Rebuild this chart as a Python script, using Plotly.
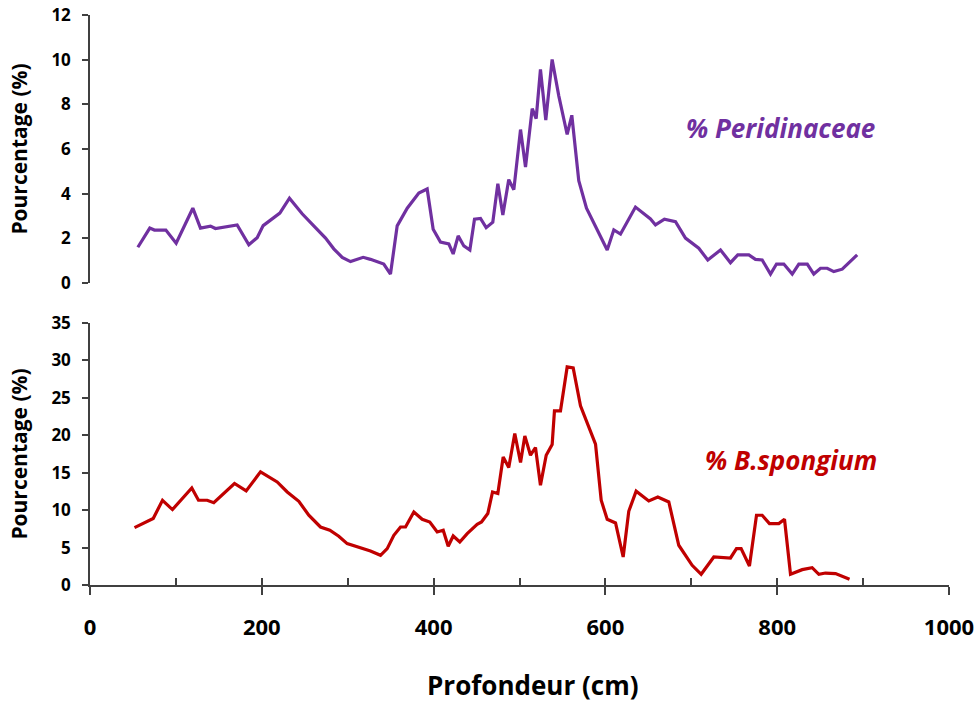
import plotly.graph_objects as go

# Peridinaceae (%) vs depth (cm)
peri_depth = [55.7, 69.6, 75, 88.3, 100.3, 119.7, 128.6, 140.3, 146, 171.3, 184.9, 194.6, 201.6,
              221, 232.2, 247, 260.5, 274.2, 283.8, 293.6, 303.3, 318, 326.5, 338.2, 342, 349.8,
              357.6, 369.3, 382.8, 392.5, 399.5, 408, 417.7, 422.8, 428.6, 435.2, 442.2, 447.6,
              454.6, 461.2, 468.9, 474.8, 480.6, 487.5, 493.4, 501.2, 507, 514.8, 519.4, 524.4,
              530.6, 538, 545.8, 555.5, 560.9, 569, 578, 602.1, 609.8, 617.6, 635, 652.5, 658.3,
              668.7, 681.6, 693.2, 708.7, 719.2, 734, 745.6, 754.1, 767, 774.7, 782.5, 792.2,
              799.2, 807.7, 817.5, 825.2, 835, 842.6, 850.4, 858.2, 865.9, 875.7, 893.1]
peri_pct = [1.60, 2.46, 2.37, 2.37, 1.78, 3.35, 2.46, 2.55, 2.44, 2.60, 1.71, 2.03, 2.57,
            3.13, 3.80, 3.10, 2.56, 2.01, 1.53, 1.15, 0.96, 1.15, 1.06, 0.91, 0.85, 0.40,
            2.56, 3.35, 4.03, 4.21, 2.41, 1.83, 1.75, 1.30, 2.11, 1.66, 1.48, 2.86,
            2.89, 2.48, 2.72, 4.45, 3.05, 4.63, 4.18, 6.87, 5.19, 7.81, 7.36, 9.56,
            7.29, 10.01, 8.37, 6.65, 7.51, 4.58, 3.35, 1.48, 2.38, 2.19, 3.40, 2.87, 2.60,
            2.86, 2.75, 2.01, 1.56, 1.03, 1.48, 0.91, 1.26, 1.26, 1.06, 1.03, 0.40,
            0.85, 0.85, 0.40, 0.85, 0.85, 0.40, 0.66, 0.66, 0.51, 0.62, 1.26]

# B. spongium (%) vs depth (cm)
bsp_depth = [51.8, 62.6, 73.6, 84.4, 96, 118.5, 126.3, 136.4, 144.1, 168.2, 181.8, 198.5,
             217.9, 229.6, 243.1, 254.7, 268.3, 279.2, 289.6, 299.4, 326.5, 338.2, 346, 353.7,
             361.5, 367.3, 377, 386.7, 395.6, 404.2, 411.2, 417, 422.8, 430.5, 439.1, 450.7,
             455.8, 463.1, 468.6, 474.8, 481, 487.5, 494.5, 501.2, 506.2, 512.8, 518.6, 524.4,
             531.1, 538, 540.7, 547.7, 555.5, 562.5, 571, 588.5, 595.1, 602.1, 611.8, 620.7,
             627.2, 635.8, 650.5, 661, 673.8, 685.4, 701, 711.5, 726.2, 745.6, 752.6, 758,
             767.7, 775.9, 782.5, 791, 801.9, 808.5, 815.5, 829.1, 840.7, 848.5, 856.2, 867.9,
             884.2]
bsp_pct = [7.67, 8.29, 8.88, 11.32, 10.08, 12.97, 11.32, 11.32, 11.0, 13.56, 12.57, 15.11,
           13.77, 12.43, 11.19, 9.32, 7.75, 7.31, 6.51, 5.53, 4.55, 3.97, 4.86, 6.64,
           7.75, 7.75, 9.76, 8.78, 8.42, 7.09, 7.31, 5.17, 6.55, 5.75, 6.87, 8.11,
           8.42, 9.55, 12.43, 12.22, 17.11, 15.69, 20.24, 16.36, 19.92, 17.34, 18.37, 13.33,
           17.34, 18.77, 23.26, 23.26, 29.14, 29.0, 23.93, 18.81, 11.32, 8.78, 8.29, 3.74,
           9.85, 12.53, 11.23, 11.76, 11.10, 5.31, 2.63, 1.43, 3.74, 3.61, 4.86, 4.86,
           2.54, 9.32, 9.32, 8.20, 8.20, 8.78, 1.43, 2.05, 2.32, 1.43, 1.60, 1.52,
           0.76]

x_ticks = [0, 200, 400, 600, 800, 1000]
top_y_ticks = [0, 2, 4, 6, 8, 10, 12]
bot_y_ticks = [0, 5, 10, 15, 20, 25, 30, 35]

PURPLE = "#7030A0"
RED = "#C00000"
AXC = "#404040"
FONT = "Open Sans"

fig = go.Figure()
fig.add_trace(go.Scatter(x=peri_depth, y=peri_pct, mode="lines",
                         line=dict(color=PURPLE, width=3.2), xaxis="x", yaxis="y",
                         showlegend=False))
fig.add_trace(go.Scatter(x=bsp_depth, y=bsp_pct, mode="lines",
                         line=dict(color=RED, width=3.2), xaxis="x2", yaxis="y2",
                         showlegend=False))

ytitle = dict(text="Pourcentage (%)", font=dict(family=FONT, size=21, color="black", weight="bold"),
              standoff=18)
ytick = dict(family=FONT, size=17, color="black", weight="bold")

fig.update_layout(
    width=975, height=704,
    margin=dict(l=90, r=26, t=15, b=119),
    plot_bgcolor="white", paper_bgcolor="white",
    xaxis=dict(domain=[0, 1], range=[0, 1000], visible=False, anchor="y", automargin=False),
    yaxis=dict(domain=[0.5298, 1.0], range=[0, 12], tickvals=top_y_ticks,
               showline=True, linecolor=AXC, linewidth=1.5, ticks="outside",
               ticklen=6, tickcolor=AXC, tickwidth=1.5, showgrid=False, zeroline=False,
               tickfont=ytick, title=ytitle, anchor="x", ticklabelstandoff=8,
               automargin=False, ticklabeloverflow="allow"),
    xaxis2=dict(domain=[0, 1], range=[0, 1000], tickvals=x_ticks, anchor="y2",
                showline=True, linecolor=AXC, linewidth=1.5, ticks="outside", ticklen=8,
                tickcolor=AXC, tickwidth=1.5, showgrid=False, zeroline=False,
                tickfont=dict(family=FONT, size=22, color="black", weight="bold"),
                ticklabelstandoff=14, automargin=False, ticklabeloverflow="allow"),
    xaxis3=dict(domain=[0, 1], range=[0, 1000], dtick=100, tick0=0, anchor="y2",
                overlaying="x2", showticklabels=False, ticks="inside", ticklen=7,
                tickcolor=AXC, tickwidth=1.5, showgrid=False, zeroline=False, showline=False,
                automargin=False),
    yaxis2=dict(domain=[0, 0.4596], range=[0, 35], tickvals=bot_y_ticks,
                showline=True, linecolor=AXC, linewidth=1.5, ticks="outside",
                ticklen=6, tickcolor=AXC, tickwidth=1.5, showgrid=False, zeroline=False,
                tickfont=ytick, title=ytitle, anchor="x2", ticklabelstandoff=8,
                automargin=False, ticklabeloverflow="allow"),
    annotations=[
        dict(text="<b><i>% Peridinaceae</i></b>", x=804, y=6.95, xref="x", yref="y",
             showarrow=False, font=dict(family=FONT, size=26, color=PURPLE)),
        dict(text="<b><i>% B.spongium</i></b>", x=816, y=16.7, xref="x2", yref="y2",
             showarrow=False, font=dict(family=FONT, size=26, color=RED)),
        dict(text="<b>Profondeur (cm)</b>", x=0.5146, y=-0.1754, xref="paper", yref="paper",
             xanchor="center", yanchor="middle",
             showarrow=False, font=dict(family=FONT, size=26, color="black")),
    ],
)

# invisible trace to activate xaxis3
fig.add_trace(go.Scatter(x=[0, 1000], y=[None, None], xaxis="x3", yaxis="y2",
                         mode="lines", showlegend=False, hoverinfo="skip"))

fig.write_html("out.html", config={"displayModeBar": False},
               post_script="document.body.style.margin='0';document.body.style.overflow='hidden';")
